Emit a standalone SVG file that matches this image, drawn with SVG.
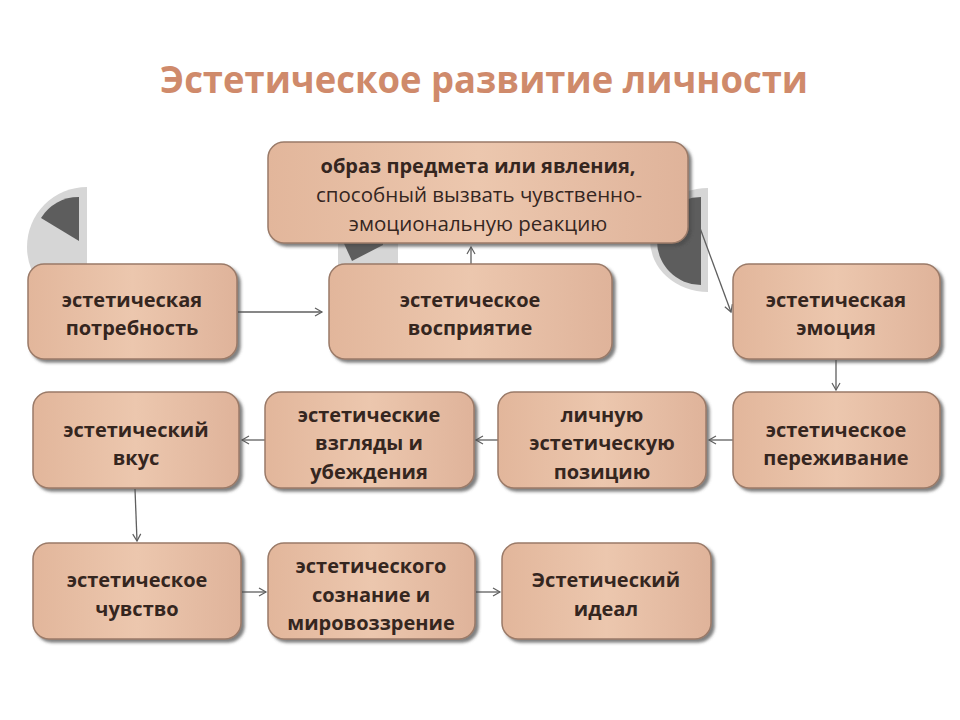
<svg xmlns="http://www.w3.org/2000/svg" width="960" height="720" viewBox="0 0 960 720">
<style>
.t{font-family:"Open Sans","Liberation Sans",sans-serif;font-weight:700;font-size:20px;fill:#35261f;text-anchor:middle}
.r{font-weight:400;font-size:20.5px}
.title{font-family:"Open Sans","Liberation Sans",sans-serif;font-weight:700;font-size:38px;fill:#cf8a6b;text-anchor:middle}
.box{fill:url(#g);stroke:#9a7a68;stroke-width:1.5;filter:url(#sh)}
.c{fill:none;stroke:#5f5f5f;stroke-width:1.3;marker-end:url(#ar)}
.lg{fill:#d6d6d6}
.dg{fill:#5d5d5d}
</style>
<defs>
<linearGradient id="g" x1="0" y1="0" x2="1" y2="0">
<stop offset="0" stop-color="#e2b69b"/>
<stop offset="0.5" stop-color="#ecc7ae"/>
<stop offset="1" stop-color="#dfb39a"/>
</linearGradient>
<filter id="sh" x="-10%" y="-10%" width="130%" height="130%">
<feDropShadow dx="3" dy="3" stdDeviation="1.5" flood-color="#4a4a4a" flood-opacity="0.7"/>
</filter>
<marker id="ar" markerWidth="10" markerHeight="10" refX="8" refY="5" orient="auto" markerUnits="userSpaceOnUse">
<path d="M1,1 L8,5 L1,9" fill="none" stroke="#5f5f5f" stroke-width="1.2"/>
</marker>
</defs>
<rect width="960" height="720" fill="#ffffff"/>
<text class="title" x="484" y="93" textLength="648" lengthAdjust="spacingAndGlyphs">Эстетическое развитие личности</text>

<g id="decor">
<path class="lg" d="M87,187 A60,60 0 0 0 87,307 Z"/>
<path class="dg" d="M79,241 L79,197 A44,44 0 0 0 41,218 Z"/>
<path class="lg" d="M398,200 A70,70 0 0 0 338,240 L338,275 L398,275 Z"/>
<path class="dg" d="M383,225 L383,245 L352,261 L340,235 Z"/>
<path class="lg" d="M708,188 A58,52 0 0 0 708,292 Z"/>
<path class="dg" d="M701,197 A44,44 0 0 0 701,285 Z"/>
</g>

<g id="connectors">
<line class="c" x1="238" y1="312" x2="322" y2="312"/>
<line class="c" x1="471" y1="264" x2="471" y2="247"/>
<line class="c" x1="700" y1="228" x2="731" y2="312"/>
<line class="c" x1="836" y1="360" x2="836" y2="390"/>
<line class="c" x1="733" y1="440" x2="709" y2="440"/>
<line class="c" x1="498" y1="440" x2="476" y2="440"/>
<line class="c" x1="265" y1="440" x2="242" y2="440"/>
<line class="c" x1="135" y1="489" x2="137" y2="541"/>
<line class="c" x1="242" y1="592" x2="266" y2="592"/>
<line class="c" x1="476" y1="592" x2="500" y2="592"/>
</g>

<g id="n-obraz">
<rect class="box" x="268" y="142" width="420" height="101" rx="16"/>
<text class="t" x="478" y="173">образ предмета или явления,</text>
<text class="t r" x="479" y="202">способный вызвать чувственно-</text>
<text class="t r" x="478" y="231">эмоциональную реакцию</text>
</g>
<g id="n-potrebnost">
<rect class="box" x="28" y="264" width="209" height="95" rx="16"/>
<text class="t" x="132" y="307">эстетическая</text>
<text class="t" x="132" y="335">потребность</text>
</g>
<g id="n-vospriyatie">
<rect class="box" x="329" y="264" width="283" height="95" rx="16"/>
<text class="t" x="470" y="307">эстетическое</text>
<text class="t" x="470" y="335">восприятие</text>
</g>
<g id="n-emociya">
<rect class="box" x="733" y="264" width="207" height="95" rx="16"/>
<text class="t" x="836" y="307">эстетическая</text>
<text class="t" x="836" y="335">эмоция</text>
</g>
<g id="n-vkus">
<rect class="box" x="33" y="392" width="206" height="96" rx="16"/>
<text class="t" x="136" y="437">эстетический</text>
<text class="t" x="136" y="465">вкус</text>
</g>
<g id="n-vzglyady">
<rect class="box" x="265" y="392" width="209" height="96" rx="16"/>
<text class="t" x="369" y="422">эстетические</text>
<text class="t" x="369" y="450">взгляды и</text>
<text class="t" x="369" y="479">убеждения</text>
</g>
<g id="n-poziciya">
<rect class="box" x="498" y="392" width="208" height="96" rx="16"/>
<text class="t" x="602" y="422">личную</text>
<text class="t" x="602" y="450">эстетическую</text>
<text class="t" x="602" y="479">позицию</text>
</g>
<g id="n-perezhivanie">
<rect class="box" x="733" y="392" width="207" height="96" rx="16"/>
<text class="t" x="836" y="437">эстетическое</text>
<text class="t" x="836" y="465">переживание</text>
</g>
<g id="n-chuvstvo">
<rect class="box" x="33" y="543" width="208" height="96" rx="16"/>
<text class="t" x="137" y="587">эстетическое</text>
<text class="t" x="137" y="616">чувство</text>
</g>
<g id="n-soznanie">
<rect class="box" x="268" y="543" width="207" height="96" rx="16"/>
<text class="t" x="371" y="573">эстетического</text>
<text class="t" x="371" y="602">сознание и</text>
<text class="t" x="371" y="630">мировоззрение</text>
</g>
<g id="n-ideal">
<rect class="box" x="502" y="543" width="209" height="96" rx="16"/>
<text class="t" x="606" y="587">Эстетический</text>
<text class="t" x="606" y="616">идеал</text>
</g>
</svg>
